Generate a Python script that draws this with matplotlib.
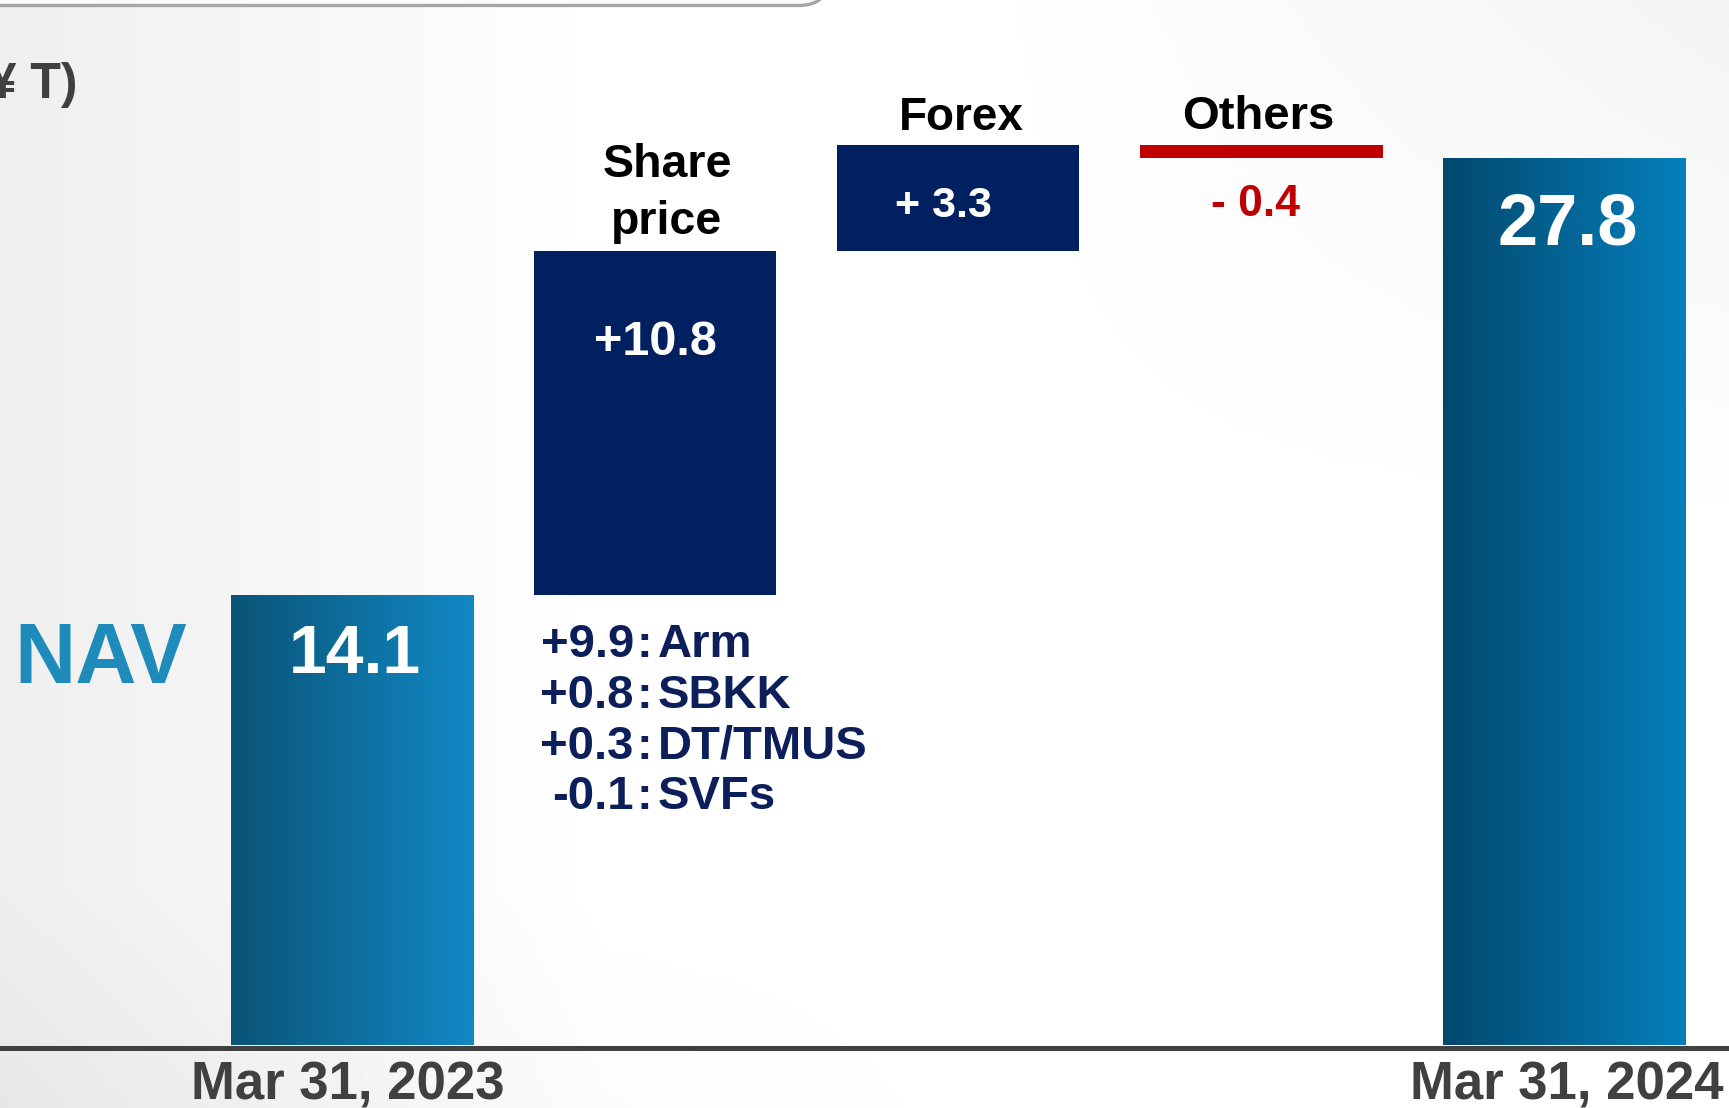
import numpy as np
import matplotlib.pyplot as plt
from matplotlib.colors import LinearSegmentedColormap
from matplotlib.patches import FancyBboxPatch
from matplotlib.transforms import ScaledTranslation, IdentityTransform

# data
categories = ['Mar 31, 2023', 'Share\nprice', 'Forex', 'Others', 'Mar 31, 2024']
values = [14.1, 10.8, 3.3, -0.4, 27.8]
value_labels = ['14.1', '+10.8', '+ 3.3', '- 0.4', '27.8']
kinds = ['total', 'delta', 'delta', 'delta', 'total']
breakdown_values = ['+9.9', '+0.8', '+0.3', '-0.1']
breakdown_names = ['Arm', 'SBKK', 'DT/TMUS', 'SVFs']
unit_label = '(¥ T)'
row_label = 'NAV'

plt.rcParams['font.family'] = ['Liberation Sans', 'DejaVu Sans']

W, H = 1729, 1108
fig = plt.figure(figsize=(W / 100, H / 100), dpi=100)

# light slide background
bg = fig.add_axes([0, 0, 1, 1], zorder=-10)
gx, gy = np.meshgrid(np.linspace(0, 1, 300), np.linspace(0, 1, 200))
shade = 1.0 - 0.065 * np.clip(1 - gx / 0.35, 0, 1) \
    - 0.045 * np.clip((gx - 0.55) / 0.45, 0, 1) * np.clip(1 - gy / 0.5, 0, 1) \
    - 0.03 * np.clip((gy - 0.8) / 0.2, 0, 1) * np.clip(1 - gx / 0.6, 0, 1)
bg.imshow(shade, cmap='gray', vmin=0, vmax=1, extent=[0, 1, 0, 1], aspect='auto')
bg.set_axis_off()

# top box edge (slide title frame)
frame = FancyBboxPatch((-40, H - 5.5), 869, 100, boxstyle='round,pad=0,rounding_size=30',
                       transform=IdentityTransform(), facecolor='#fbfbfb',
                       edgecolor='#a6a6a6', linewidth=2.4, zorder=1)
fig.patches.append(frame)

ax = fig.add_axes([0, 63 / H, 1, 1045 / H])
ax.patch.set_alpha(0)

# waterfall bottoms
bottoms, heights = [], []
running = 0.0
for v, k in zip(values, kinds):
    if k == 'total':
        bottoms.append(0.0)
        heights.append(v)
        running = v
    else:
        new = running + v
        bottoms.append(min(running, new))
        heights.append(abs(v))
        running = new

pos = np.arange(len(categories))
colors = ['none', '#002060', '#002060', '#c00000', 'none']
bars = ax.bar(pos, heights, bottom=bottoms, width=0.8, color=colors, zorder=2)

grads = {0: ('#0a5477', '#1189c5'), 4: ('#02486d', '#0580bc')}
ramp = np.linspace(0, 1, 256).reshape(1, -1)
for i, (c0, c1) in grads.items():
    b = bars[i]
    cmap = LinearSegmentedColormap.from_list('g%d' % i, [c0, c1])
    im = ax.imshow(ramp, cmap=cmap, aspect='auto', zorder=2,
                   extent=[b.get_x(), b.get_x() + b.get_width(), b.get_y(), b.get_y() + b.get_height()])
    im.set_clip_path(b)

ax.set_xlim(-1.161, 4.543)
ax.set_ylim(0, 1045 / 31.9)
ax.set_axis_off()

# baseline
trans = ax.get_yaxis_transform() + ScaledTranslation(0, -2.5 / 100, fig.dpi_scale_trans)
ax.plot([0, 1], [0, 0], transform=trans, color='#404040', lw=3.6, clip_on=False, zorder=3)


def label(i, txt, anchor, dx, dy, **kw):
    b = bars[i]
    xc = b.get_x() + b.get_width() / 2
    y = b.get_y() + b.get_height() if anchor == 'top' else b.get_y()
    ax.annotate(txt, (xc, y), xytext=(dx, dy), textcoords='offset pixels',
                va='baseline', annotation_clip=False, fontweight='bold', zorder=5, **kw)


# value labels
label(0, value_labels[0], 'top', 3, -78, ha='center', color='white', fontsize=49)
label(1, value_labels[1], 'top', 0, -104, ha='center', color='white', fontsize=35)
label(2, value_labels[2], 'top', -15, -72, ha='center', color='white', fontsize=31)
label(3, value_labels[3], 'bottom', -6, -58, ha='center', color='#c00000', fontsize=32)
label(4, value_labels[4], 'top', 3, -86, ha='center', color='white', fontsize=52)

# category labels
label(1, categories[1], 'top', 12, 17, ha='center', color='black', fontsize=33.5, linespacing=1.38)
label(2, categories[2], 'top', 3, 15, ha='center', color='black', fontsize=33)
label(3, categories[3], 'top', -3, 16, ha='center', color='black', fontsize=34)
label(0, categories[0], 'bottom', -4, -54, ha='center', color='#404040', fontsize=38)
label(4, categories[4], 'bottom', 2, -54, ha='center', color='#404040', fontsize=38)

# NAV row label
b0 = bars[0]
ax.annotate(row_label, (b0.get_x(), b0.get_height()), xytext=(-44, -88), textcoords='offset pixels',
            ha='right', va='baseline', color='#1f8bbb', fontsize=61, fontweight='bold',
            annotation_clip=False)

# share price breakdown
b1 = bars[1]
for k, (v, n) in enumerate(zip(breakdown_values, breakdown_names)):
    dy = -62 - 50.7 * k
    ax.annotate(v, (b1.get_x(), b1.get_y()), xytext=(100, dy), textcoords='offset pixels',
                ha='right', va='baseline', color='#0c1f5b', fontsize=34, fontweight='bold')
    ax.annotate(':', (b1.get_x(), b1.get_y()), xytext=(111, dy), textcoords='offset pixels',
                ha='center', va='baseline', color='#0c1f5b', fontsize=34, fontweight='bold')
    ax.annotate(n, (b1.get_x(), b1.get_y()), xytext=(124, dy), textcoords='offset pixels',
                ha='left', va='baseline', color='#0c1f5b', fontsize=34, fontweight='bold')

# unit label, clipped at the left edge
fig.text(78 / W, 1 - 98 / H, unit_label, ha='right', va='baseline', color='#404040',
         fontsize=36, fontweight='bold')

fig.savefig('out.png', dpi=100)
